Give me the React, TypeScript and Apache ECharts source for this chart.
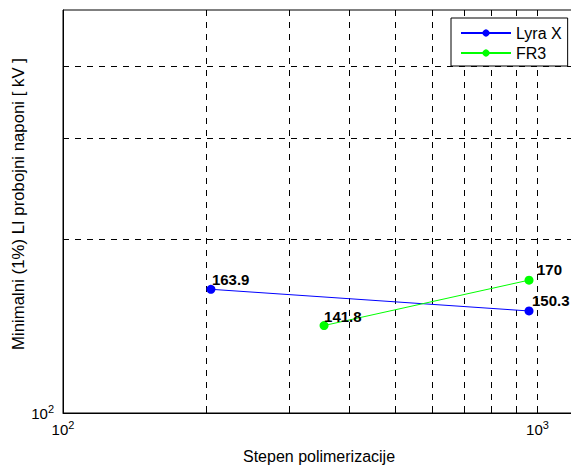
import React, { useEffect, useRef } from "react";
import * as echarts from "echarts";

const seriesNames = ["Lyra X", "FR3"];
const lyraX = [205, 960];
const lyraY = [163.9, 150.3];
const fr3X = [355, 960];
const fr3Y = [141.8, 170];
const xGridValues = [200, 300, 400, 500, 600, 700, 800, 900, 1000];
const yGridValues = [200, 300, 400];
const xTickLabels: Record<number, string> = { 100: "{b|10}{s|2}", 1000: "{b|10}{s|3}" };
const yTickLabels: Record<number, string> = { 100: "{b|10}{s|2}" };
const xAxisTitle = "Stepen polimerizacije";
const yAxisTitle = "Minimalni (1%) LI probojni naponi [ kV ]";

const FONT = "'Liberation Sans', Arial, sans-serif";

export default function App() {
  const ref = useRef<HTMLDivElement>(null);
  useEffect(() => {
    if (!ref.current) return;
    const chart = echarts.init(ref.current, undefined, { renderer: "svg" });
    const labelStyle = (dx: number, dy: number) => ({
      show: true,
      position: "top",
      distance: 0,
      align: "left",
      offset: [dx, dy],
      fontFamily: FONT,
      fontSize: 15,
      fontWeight: "bold",
      color: "#000",
    });
    const lyraOffsets = [[1, 2], [3, 2]];
    const fr3Offsets = [[0, 3], [8, 1]];
    const rich = {
      b: { fontFamily: FONT, fontSize: 15, color: "#000" },
      s: { fontFamily: FONT, fontSize: 11, color: "#000", padding: [0, 0, 9, 0] },
    };
    chart.setOption({
      animation: false,
      backgroundColor: "#fff",
      textStyle: { fontFamily: FONT },
      grid: {
        left: 63,
        top: 10,
        width: 512,
        height: 403,
        containLabel: false,
        outerBoundsMode: "none",
        show: true,
        borderColor: "#000",
        borderWidth: 1,
        backgroundColor: "transparent",
      },
      graphic: [
        {
          type: "text",
          x: 18,
          y: 204,
          rotation: Math.PI / 2,
          style: {
            text: yAxisTitle,
            fontFamily: FONT,
            fontSize: 16.8,
            fill: "#000",
            align: "center",
            verticalAlign: "middle",
          },
        },
      ],
      legend: {
        data: seriesNames,
        orient: "vertical",
        left: 451,
        top: 18,
        padding: [7, 6, 5, 9],
        itemGap: 4,
        itemWidth: 50,
        itemHeight: 9,
        backgroundColor: "#fff",
        borderColor: "#000",
        borderWidth: 1,
        borderRadius: 0,
        textStyle: { fontFamily: FONT, fontSize: 16, color: "#000" },
      },
      xAxis: {
        type: "log",
        logBase: 10,
        min: 100,
        max: 1200,
        name: xAxisTitle,
        nameLocation: "middle",
        nameGap: 35,
        nameTextStyle: { fontFamily: FONT, fontSize: 16, color: "#000" },
        axisLine: { show: true, lineStyle: { color: "#000", width: 1 } },
        axisTick: { show: false },
        splitLine: { show: false },
        axisLabel: {
          margin: 6,
          showMaxLabel: false,
          formatter: (v: number) => xTickLabels[Math.round(v)] || "",
          rich,
        },
      },
      yAxis: {
        type: "log",
        logBase: 10,
        min: 100,
        max: 500,
        axisLine: { show: true, lineStyle: { color: "#000", width: 1 } },
        axisTick: { show: false },
        splitLine: { show: false },
        axisLabel: {
          margin: 9,
          showMaxLabel: false,
          formatter: (v: number) => yTickLabels[Math.round(v)] || "",
          rich,
        },
      },
      series: [
        {
          type: "custom",
          silent: true,
          z: 1,
          data: xGridValues.map((v) => [v, 100]),
          renderItem: (params: any, api: any) => {
            const p = api.coord([api.value(0), 100]);
            const cs = params.coordSys;
            const x = Math.round(p[0]) + 0.5;
            const top = cs.y;
            const bot = cs.y + cs.height;
            return {
              type: "group",
              children: [
                { type: "line", shape: { x1: x, y1: top, x2: x, y2: bot }, style: { stroke: "#000", lineWidth: 1, lineDash: [6, 6] } },
                { type: "line", shape: { x1: x, y1: bot - 5, x2: x, y2: bot }, style: { stroke: "#000", lineWidth: 1 } },
                { type: "line", shape: { x1: x, y1: top, x2: x, y2: top + 5 }, style: { stroke: "#000", lineWidth: 1 } },
              ],
            };
          },
        },
        {
          type: "custom",
          silent: true,
          z: 1,
          data: yGridValues.map((v) => [100, v]),
          renderItem: (params: any, api: any) => {
            const p = api.coord([100, api.value(1)]);
            const cs = params.coordSys;
            const y = Math.round(p[1]) + 0.5;
            const left = cs.x;
            const right = cs.x + cs.width;
            return {
              type: "group",
              children: [
                { type: "line", shape: { x1: left, y1: y, x2: right, y2: y }, style: { stroke: "#000", lineWidth: 1, lineDash: [6, 6] } },
                { type: "line", shape: { x1: left, y1: y, x2: left + 5, y2: y }, style: { stroke: "#000", lineWidth: 1 } },
              ],
            };
          },
        },
        {
          name: "Lyra X",
          type: "line",
          z: 5,
          symbol: "circle",
          symbolSize: 9,
          color: "#0000ff",
          lineStyle: { color: "#0000ff", width: 1 },
          itemStyle: { color: "#0000ff" },
          data: lyraX.map((x, i) => ({ value: [x, lyraY[i]], label: labelStyle(lyraOffsets[i][0], lyraOffsets[i][1]) })),
          label: { formatter: (p: any) => String(p.value[1]) },
        },
        {
          name: "FR3",
          type: "line",
          z: 5,
          symbol: "circle",
          symbolSize: 9,
          color: "#00ff00",
          lineStyle: { color: "#00ff00", width: 1 },
          itemStyle: { color: "#00ff00" },
          data: fr3X.map((x, i) => ({ value: [x, fr3Y[i]], label: labelStyle(fr3Offsets[i][0], fr3Offsets[i][1]) })),
          label: { formatter: (p: any) => String(p.value[1]) },
        },
      ],
    });
    return () => chart.dispose();
  }, []);
  return (
    <div
      ref={ref}
      style={{ position: "absolute", left: 0, top: 0, width: 571, height: 467, background: "#fff" }}
    />
  );
}
